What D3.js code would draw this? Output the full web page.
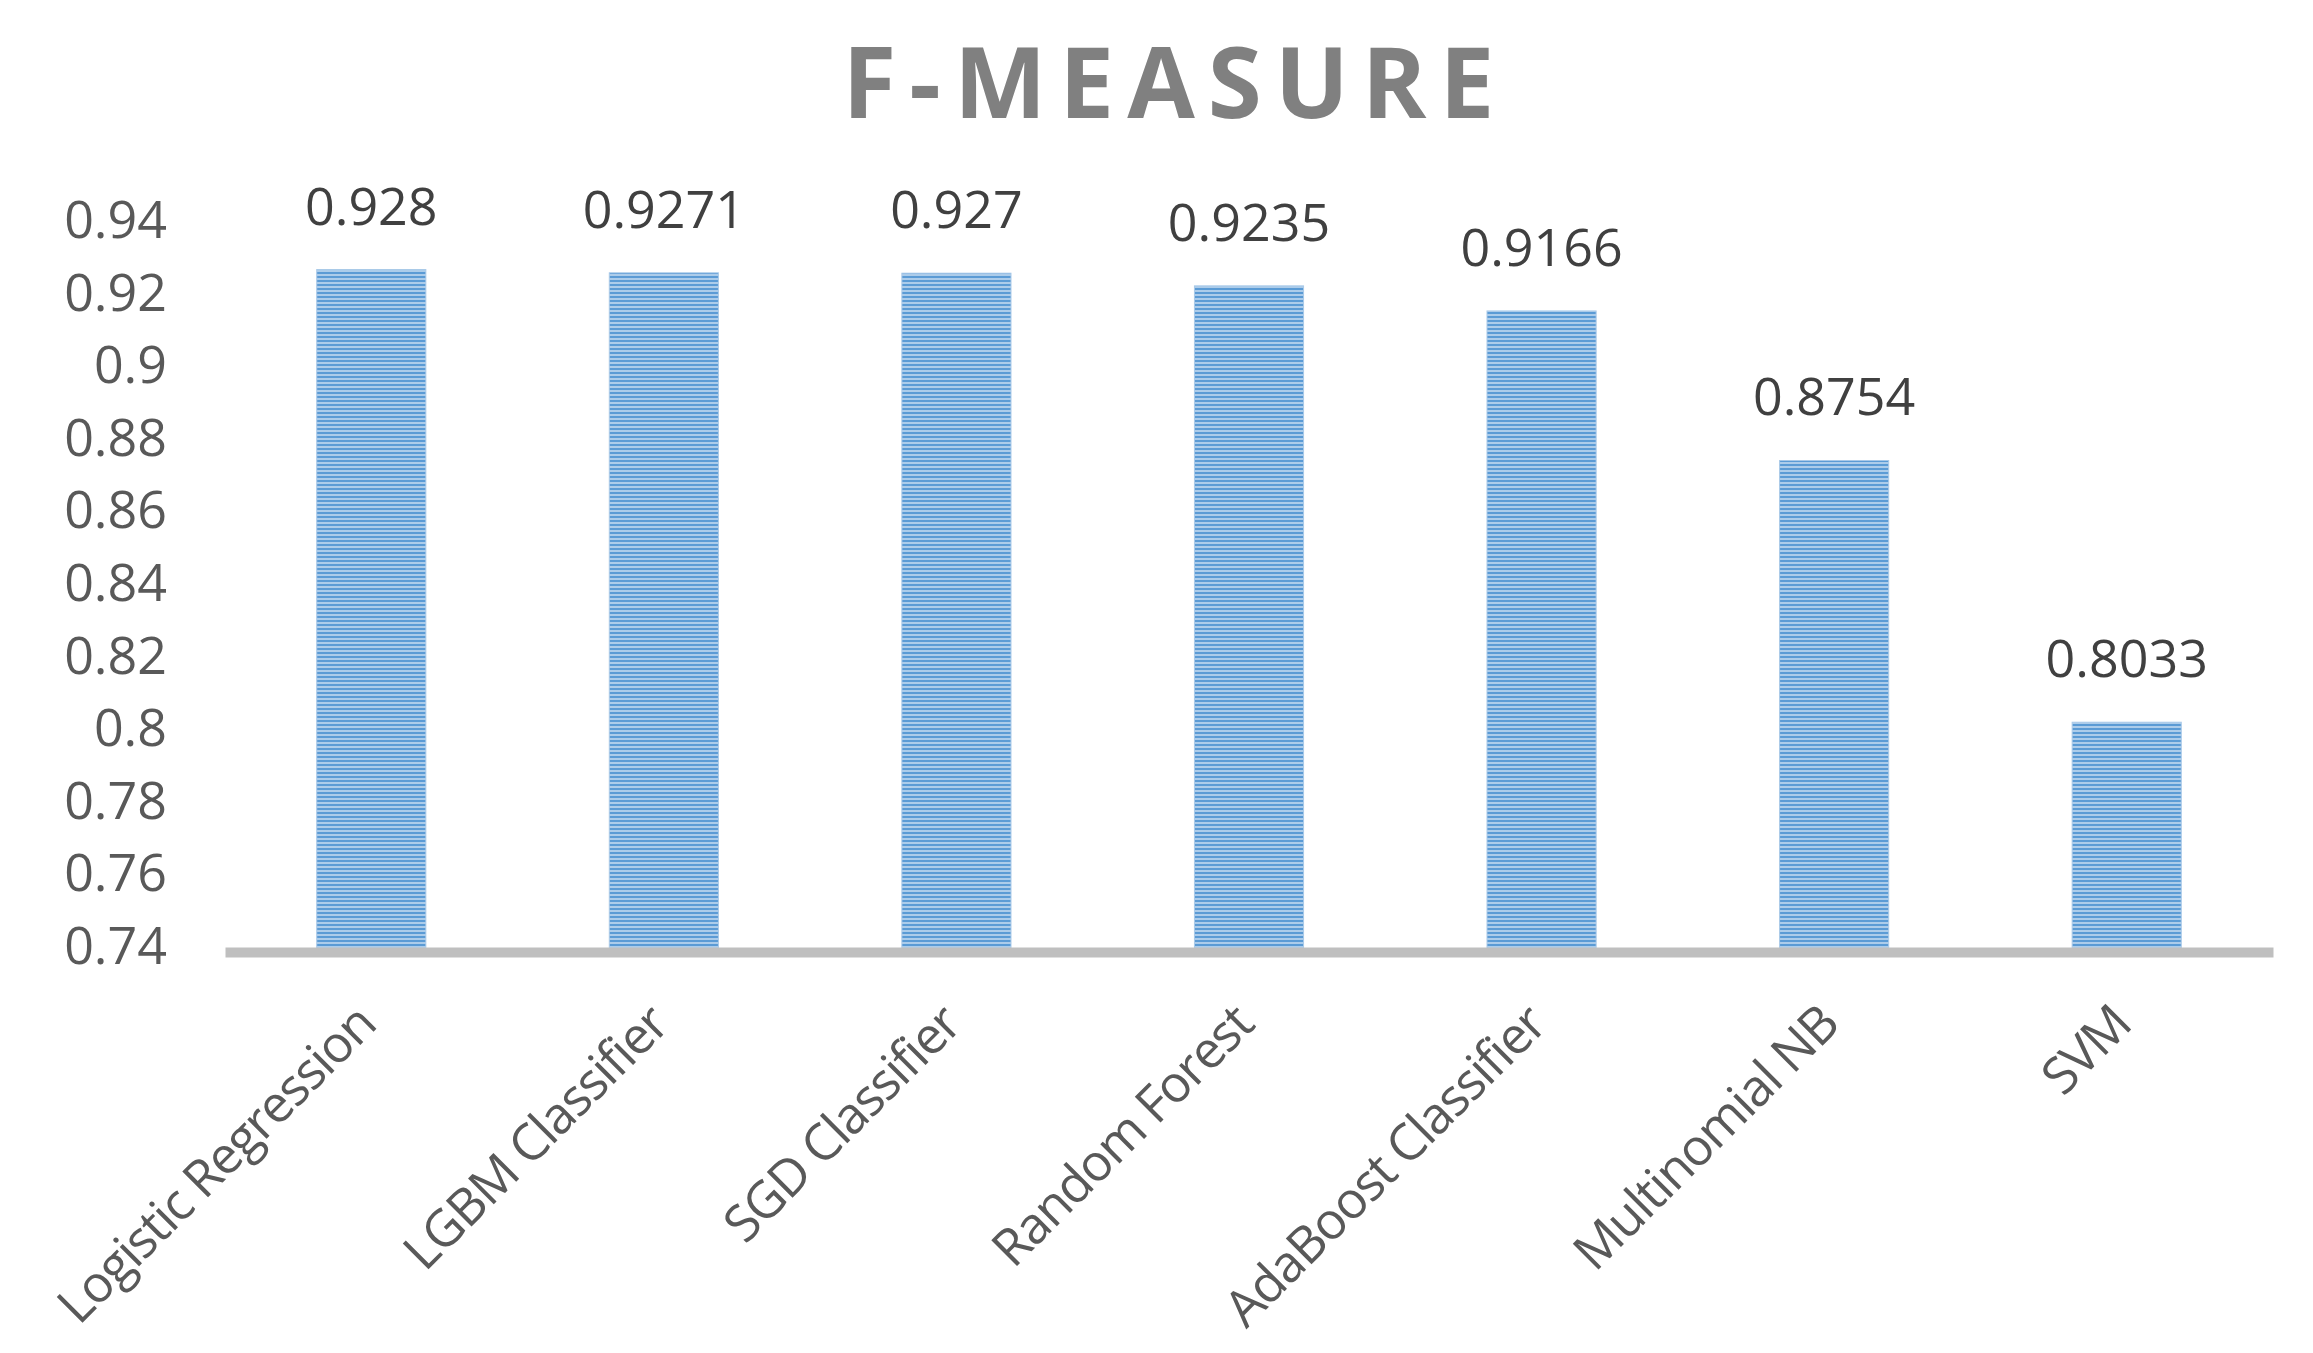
<!DOCTYPE html>
<html>
<head>
<meta charset="utf-8">
<script src="https://cdn.jsdelivr.net/npm/d3@7"></script>
<style>
  body { margin: 0; background: #fff; }
  text { font-family: "Open Sans", sans-serif; }
</style>
</head>
<body>
<div id="chart"></div>
<script>
// chart values
var models = ["Logistic Regression", "LGBM Classifier", "SGD Classifier", "Random Forest",
              "AdaBoost Classifier", "Multinomial NB", "SVM"];
var fMeasure = [0.928, 0.9271, 0.927, 0.9235, 0.9166, 0.8754, 0.8033];
var fLabels = ["0.928", "0.9271", "0.927", "0.9235", "0.9166", "0.8754", "0.8033"];
var yTicks = [0.74, 0.76, 0.78, 0.8, 0.82, 0.84, 0.86, 0.88, 0.9, 0.92, 0.94];

var W = 2313, H = 1353;
var left = 225, right = 2273, base = 952;

var svg = d3.select("#chart")
    .append("svg")
        .attr("width", W)
        .attr("height", H);

svg.append("rect").attr("width", W).attr("height", H).attr("fill", "#fff");

// striped fill like the Excel "narrow horizontal" pattern
var pat = svg.append("defs").append("pattern")
    .attr("id", "stripes")
    .attr("patternUnits", "userSpaceOnUse")
    .attr("width", 8)
    .attr("height", 4);
pat.append("rect").attr("width", 8).attr("height", 4).attr("fill", "#5b9bd5");
pat.append("rect").attr("y", 2.3).attr("width", 8).attr("height", 1.4).attr("fill", "#cfe1f3");

// title
svg.append("text")
    .attr("x", 1168 + 7)
    .attr("y", 118)
    .attr("text-anchor", "middle")
    .style("font-size", "98px")
    .style("font-weight", "bold")
    .style("letter-spacing", "13px")
    .style("fill", "#808080")
    .text("F-MEASURE");

// scales
var x = d3.scaleBand()
    .domain(models)
    .range([left, right])
    .paddingInner(0.627)
    .paddingOuter(0.3135);

var y = d3.scaleLinear()
    .domain([0.74, 0.94])
    .range([base, base - 726]);

// Y axis (labels only)
var yAxis = svg.append("g")
    .attr("transform", "translate(167,0)")
    .call(d3.axisLeft(y).tickValues(yTicks).tickSize(0).tickPadding(0).tickFormat(function (d) { return String(d); }));
yAxis.select(".domain").remove();
yAxis.selectAll("text")
    .attr("dy", "0.22em")
    .style("font-family", "'Open Sans', sans-serif")
    .style("font-size", "52px")
    .style("fill", "#595959");

// bars
svg.append("g")
    .selectAll("rect")
    .data(fMeasure)
    .enter()
    .append("rect")
        .attr("x", function (d, i) { return x(models[i]); })
        .attr("y", function (d) { return y(d); })
        .attr("width", x.bandwidth())
        .attr("height", function (d) { return base - y(d); })
        .attr("fill", "url(#stripes)")
        .attr("stroke", "#a9c9e8")
        .attr("stroke-width", 1);

// value labels
svg.append("g")
    .selectAll("text")
    .data(fMeasure)
    .enter()
    .append("text")
        .attr("x", function (d, i) { return x(models[i]) + x.bandwidth() / 2; })
        .attr("y", function (d) { return y(d) - 45; })
        .attr("text-anchor", "middle")
        .style("font-size", "52px")
        .style("fill", "#404040")
        .text(function (d, i) { return fLabels[i]; });

// X axis
var xAxis = svg.append("g")
    .attr("transform", "translate(0," + base + ")")
    .call(d3.axisBottom(x).tickSize(0).tickSizeOuter(0));
xAxis.select(".domain")
    .attr("stroke", "#bfbfbf")
    .attr("stroke-width", 10);
xAxis.selectAll("text")
    .attr("x", 0)
    .attr("y", 0)
    .attr("dy", 0)
    .attr("text-anchor", "end")
    .attr("transform", "translate(7,75) rotate(-45)")
    .style("font-family", "'Open Sans', sans-serif")
    .style("font-size", "51px")
    .style("letter-spacing", "-1.5px")
    .style("fill", "#595959");
</script>
</body>
</html>
